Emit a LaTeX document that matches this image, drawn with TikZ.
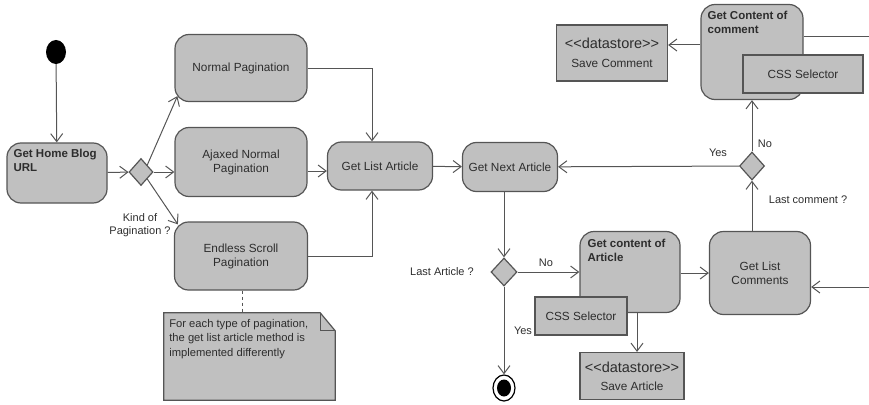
\documentclass[tikz,border=0pt]{standalone}
\usepackage{fontspec}
\setmainfont{Liberation Sans}
\usetikzlibrary{shapes.geometric,arrows.meta}

\definecolor{boxgray}{RGB}{192,192,192}
\definecolor{edgegray}{RGB}{85,85,85}
\definecolor{txtgray}{RGB}{45,45,45}

\begin{document}
\begin{tikzpicture}[x=1pt,y=-1pt,
    every node/.style={text=txtgray,font=\fontsize{11.8}{14}\selectfont},
    action/.style={draw=edgegray,line width=1.2pt,fill=boxgray,rounded corners=14pt,align=center,inner sep=0pt},
    selector/.style={draw=edgegray,line width=1.2pt,fill=boxgray,inner sep=0pt},
    decision/.style={diamond,draw=edgegray,line width=1.2pt,fill=boxgray,inner sep=0pt,minimum width=26pt,minimum height=28pt},
    flow/.style={draw=edgegray,line width=1pt,-{Straight Barb[length=8pt,width=12pt]}},
    guard/.style={font=\fontsize{11}{13}\selectfont},
    boldtext/.style={font=\bfseries\fontsize{11.5}{14}\selectfont,align=left}]
  \useasboundingbox (0,0) rectangle (869,404);

  % start and end
  \node (start) at (56,52) [ellipse,fill=black,minimum width=20pt,minimum height=24pt,inner sep=0pt] {};
  \node (stop) at (504,388) [ellipse,draw=black,line width=1.2pt,fill=white,minimum width=22pt,minimum height=26pt,inner sep=0pt] {};
  \node (stopdot) at (stop.center) [ellipse,fill=black,minimum width=14pt,minimum height=17pt,inner sep=0pt] {};

  % actions
  \node (home) at (57,173) [action,minimum width=100pt,minimum height=60pt,
    label={[boldtext,anchor=north west,inner sep=7pt]north west:Get Home Blog\\URL}] {};
  \node (normal) at (241,68) [action,minimum width=132pt,minimum height=67pt] {Normal Pagination};
  \node (ajax) at (241,162) [action,minimum width=132pt,minimum height=69pt] {Ajaxed Normal\\Pagination};
  \node (endless) at (241,256) [action,minimum width=133pt,minimum height=68pt] {Endless Scroll\\Pagination};
  \node (listart) at (380,166) [action,minimum width=105pt,minimum height=48pt] {Get List Article};
  \node (nextart) at (510,167) [action,minimum width=95pt,minimum height=49pt] {Get Next Article};
  \node (contart) at (630,272) [action,minimum width=100pt,minimum height=81pt,
    label={[boldtext,anchor=north west,inner sep=8pt]north west:Get content of\\Article}] {};
  \node (listcom) at (760,273) [action,minimum width=101pt,minimum height=83pt] {Get List\\Comments};
  \node (contcom) at (752,52) [action,minimum width=102pt,minimum height=95pt,
    label={[boldtext,anchor=north west,inner sep=7pt]north west:Get Content of\\comment}] {};

  % selectors and stores
  \node (cssart) at (581,316) [selector,minimum width=92pt,minimum height=38pt] {CSS Selector};
  \node (csscom) at (803,74) [selector,minimum width=120pt,minimum height=38pt] {CSS Selector};
  \node (saveart) at (632,376) [selector,minimum width=104pt,minimum height=47pt,align=center]
    {{\fontsize{14.5}{15}\selectfont<{}<datastore>{}>}\\[4pt]Save Article};
  \node (savecom) at (612,53) [selector,minimum width=111pt,minimum height=56pt,align=center]
    {{\fontsize{14.5}{15}\selectfont<{}<datastore>{}>}\\[5pt]Save Comment};

  % decisions
  \node (kind) at (141,172) [decision,minimum width=24pt,minimum height=27pt] {};
  \node (lastart) at (504,272) [decision] {};
  \node (lastcom) at (752,166) [decision,minimum width=25pt] {};

  % guards
  \node (kindlbl) at (140,225) [guard,align=center] {Kind of\\Pagination ?};
  \node (lastartlbl) at (442,272) [guard] {Last Article ?};
  \node (lastcomlbl) at (808,200) [guard] {Last comment ?};
  \node (noart) at (546,263) [guard] {No};
  \node (yesart) at (523,331) [guard] {Yes};
  \node (yescom) at (718,153) [guard] {Yes};
  \node (nocom) at (765,144) [guard] {No};

  % note
  \node (note) at (249.5,356.5) [minimum width=171pt,minimum height=87pt,inner sep=0pt] {};
  \filldraw[draw=edgegray,line width=1.2pt,fill=boxgray] (note.south west) -- (note.north west)
    -- ([xshift=-15pt]note.north east) -- ([yshift=-18pt]note.north east) -- (note.south east) -- cycle;
  \draw[edgegray,line width=1pt] ([xshift=-15pt]note.north east) |- ([yshift=-18pt]note.north east);
  \node (notetext) at ([xshift=2pt,yshift=-3pt]note.north west) [anchor=north west,align=left,font=\fontsize{11.2}{14.5}\selectfont]
    {For each type of pagination,\\the get list article method is\\implemented differently};
  \draw[edgegray,line width=1pt,dashed] (242,0 |- endless.south) -- (242,0 |- note.north);

  % flows
  \draw[flow] (start) -- (home);
  \draw[flow] (home) -- (kind);
  \draw[flow] (kind.north east) -- ([xshift=3pt,yshift=6pt]normal.south west);
  \draw[flow] (kind.east) -- (ajax.west |- kind.east);
  \draw[flow] (kind.south east) -- ([xshift=4pt,yshift=-3pt]endless.north west);
  \draw[flow] (normal.east) -| (372,0 |- listart.north);
  \draw[flow] (ajax.east |- 0,171) -- (listart.west |- 0,171);
  \draw[flow] (endless.east) -| (372,0 |- listart.south);
  \draw[flow] (listart) -- (nextart);
  \draw[flow] (lastart.north |- nextart.south) -- (lastart);
  \draw[flow] (lastart) -- (contart.west |- lastart.east);
  \draw[flow] (lastart) -- (stop);
  \draw[flow] (637,0 |- contart.south) -- (637,0 |- saveart.north);
  \draw[flow] (contart.east |- listcom.west) -- (listcom);
  \coordinate (comin) at (869,287);
  \draw[flow] (comin) -- (listcom.east |- comin);
  \draw[flow] (lastcom.south |- listcom.north) -- (lastcom);
  \draw[flow] (lastcom) -- (nextart);
  \draw[flow] (lastcom) -- (lastcom.north |- contcom.south);
  \draw[flow] (contcom.west |- 0,45) -- (savecom.east |- 0,45);
  \coordinate (comout) at (869,37);
  \draw[edgegray,line width=1pt] (contcom.east |- comout) -- (comout);
\end{tikzpicture}
\end{document}
